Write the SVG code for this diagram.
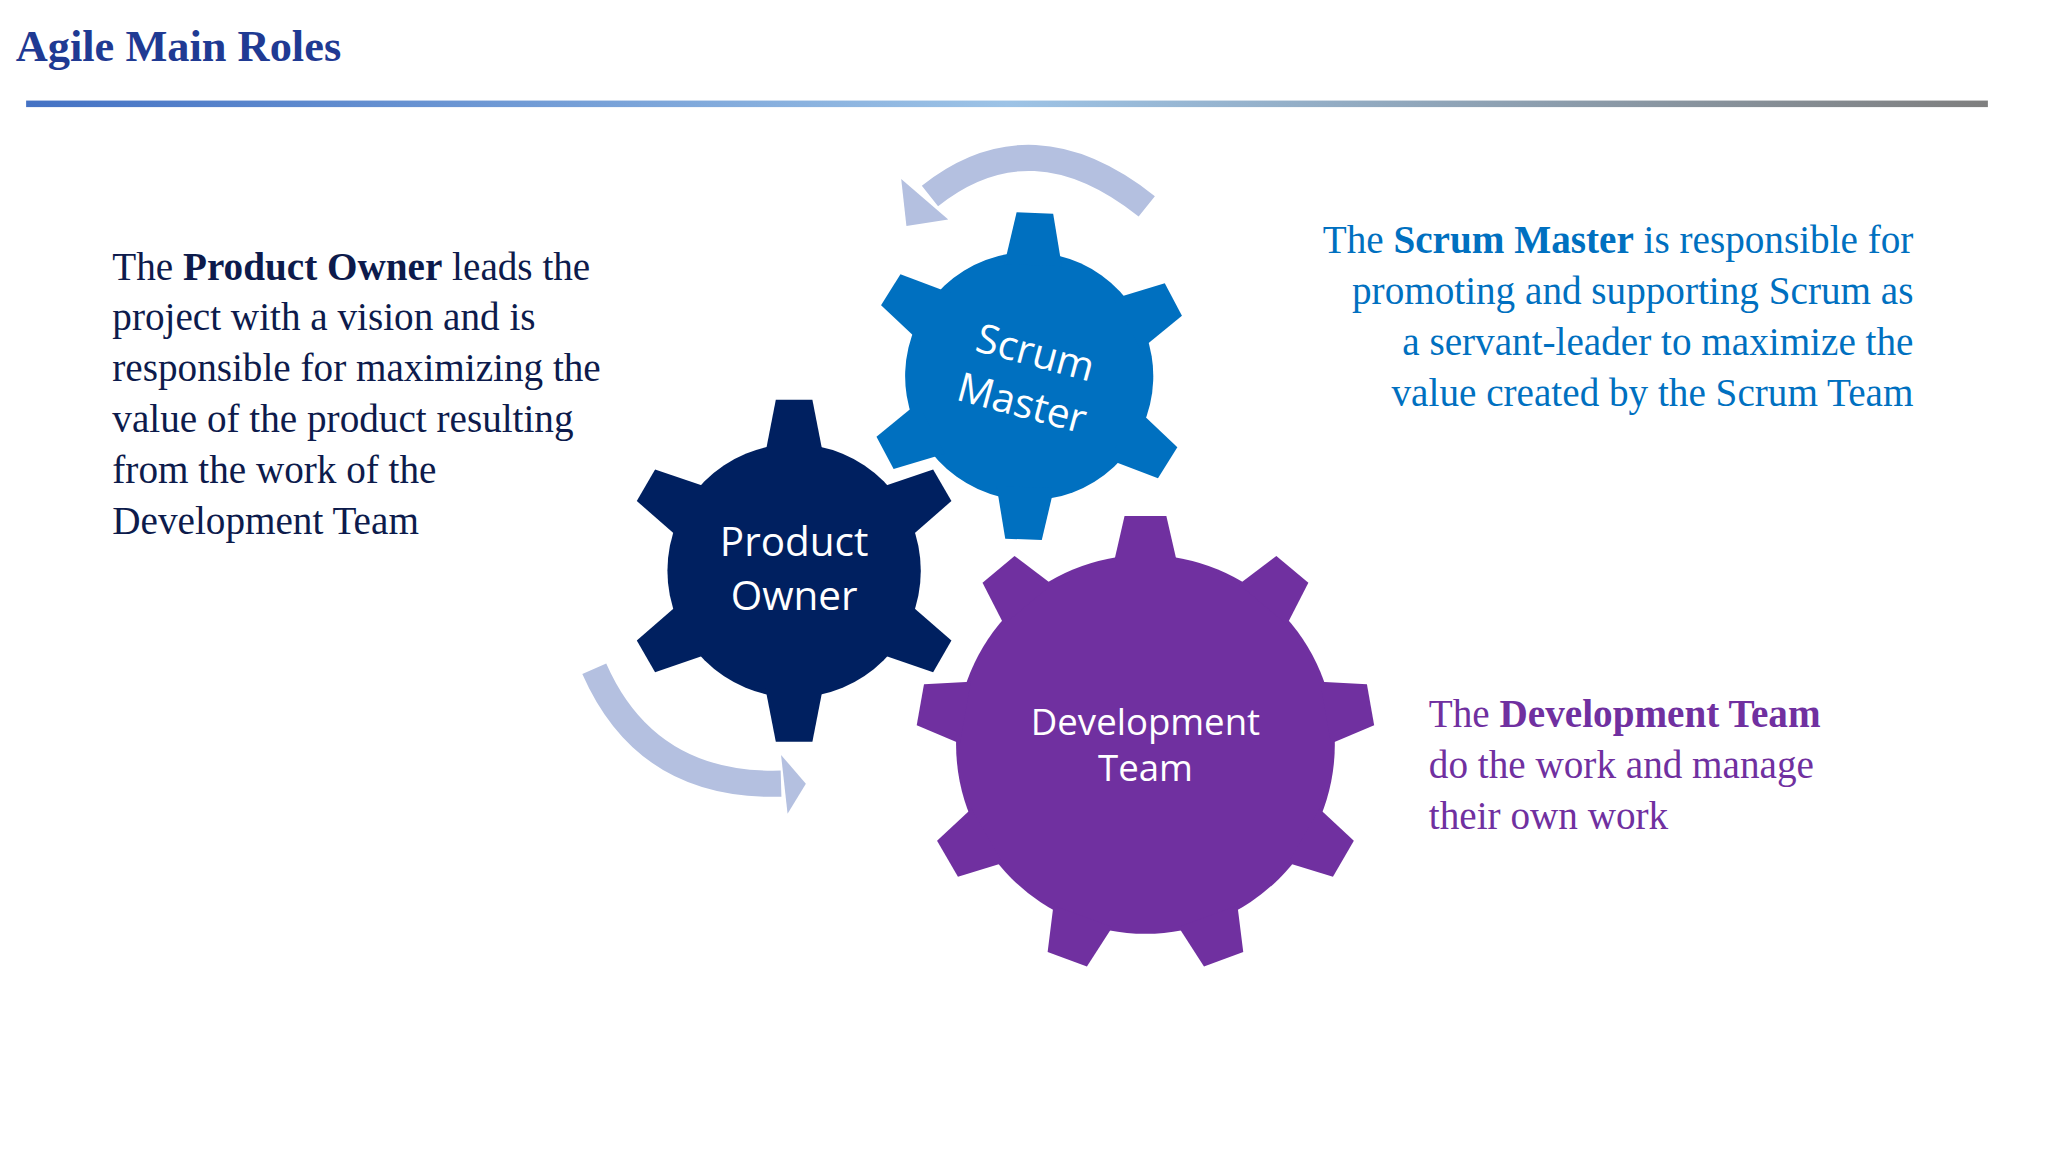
<svg xmlns="http://www.w3.org/2000/svg" width="2048" height="1152" viewBox="0 0 2048 1152">
<defs>
<style>
.t{font-family:"Liberation Serif","DejaVu Serif",serif;font-size:30px}
.g{font-family:"Open Sans","Noto Sans",sans-serif;font-size:31px;fill:#fff;text-anchor:middle}
.arr{fill:none;stroke:#b4c0e0;stroke-width:20}
</style>
<linearGradient id="lg" x1="0" x2="1"><stop offset="0" stop-color="#4472c4"/><stop offset="0.5" stop-color="#9dc3e6"/><stop offset="1" stop-color="#7f7f7f"/></linearGradient>
<polygon id="tsm" points="-22,-85 -14,-125 14,-125 22,-85"/>
<polygon id="tpo" points="-22,-90 -14,-131 14,-131 22,-90"/>
<polygon id="tdv" points="-24,-140 -16,-175 16,-175 24,-140"/>
</defs>
<rect width="2048" height="1152" fill="#fff"/>
<g transform="scale(1.3061)">
<text x="12" y="47" style="font-family:'Liberation Serif',serif;font-size:34px;font-weight:bold;fill:#1f3a93">Agile Main Roles</text>
<rect x="20" y="77" width="1502" height="5" fill="url(#lg)"/>
<g id="connectors">
<path class="arr" d="M878 158 Q790 88 712 150"/>
<polygon points="690,137 726,168 694,173" fill="#b4c0e0"/>
<path class="arr" d="M455 512 Q495 603 598 600"/>
<polygon points="598,578 617,600 603,623" fill="#b4c0e0"/>
</g>
<g id="scrum-master" fill="#0070c0" transform="translate(788,288) rotate(2)">
<circle r="95"/>
<use href="#tsm"/><use href="#tsm" transform="rotate(60)"/><use href="#tsm" transform="rotate(120)"/><use href="#tsm" transform="rotate(180)"/><use href="#tsm" transform="rotate(240)"/><use href="#tsm" transform="rotate(300)"/>
<g transform="rotate(13)"><text class="g" y="-8">Scrum</text><text class="g" y="32">Master</text></g>
</g>
<g id="product-owner" fill="#002060" transform="translate(608,437)">
<circle r="97"/>
<use href="#tpo"/><use href="#tpo" transform="rotate(60)"/><use href="#tpo" transform="rotate(120)"/><use href="#tpo" transform="rotate(180)"/><use href="#tpo" transform="rotate(240)"/><use href="#tpo" transform="rotate(300)"/>
<text class="g" y="-11">Product</text><text class="g" y="30">Owner</text>
</g>
<g id="development-team" fill="#7030a0" transform="translate(877,570)">
<circle r="145"/>
<use href="#tdv"/><use href="#tdv" transform="rotate(40)"/><use href="#tdv" transform="rotate(80)"/><use href="#tdv" transform="rotate(120)"/><use href="#tdv" transform="rotate(160)"/><use href="#tdv" transform="rotate(200)"/><use href="#tdv" transform="rotate(240)"/><use href="#tdv" transform="rotate(280)"/><use href="#tdv" transform="rotate(320)"/>
<text class="g" y="-7" style="font-size:28px">Development</text><text class="g" y="28" style="font-size:28px">Team</text>
</g>
<g id="po-text" class="t" fill="#0d1b4c">
<text x="86" y="214">The <tspan font-weight="bold">Product Owner</tspan> leads the</text>
<text x="86" y="253">project with a vision and is</text>
<text x="86" y="292">responsible for maximizing the</text>
<text x="86" y="331">value of the product resulting</text>
<text x="86" y="370">from the work of the</text>
<text x="86" y="409">Development Team</text>
</g>
<g id="sm-text" class="t" fill="#0070c0" text-anchor="end">
<text x="1465" y="194">The <tspan font-weight="bold">Scrum Master</tspan> is responsible for</text>
<text x="1465" y="233">promoting and supporting Scrum as</text>
<text x="1465" y="272">a servant-leader to maximize the</text>
<text x="1465" y="311">value created by the Scrum Team</text>
</g>
<g id="dt-text" class="t" fill="#7030a0">
<text x="1094" y="557">The <tspan font-weight="bold">Development Team</tspan></text>
<text x="1094" y="596">do the work and manage</text>
<text x="1094" y="635">their own work</text>
</g>
</g>
</svg>
